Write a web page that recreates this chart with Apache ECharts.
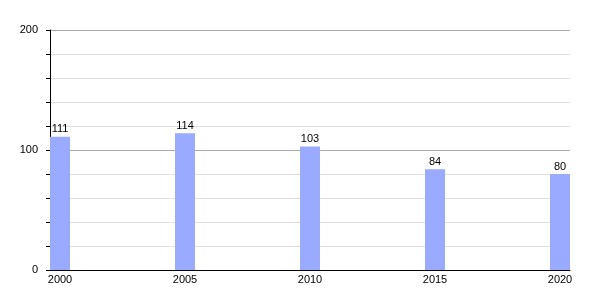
<!DOCTYPE html>
<html><head><meta charset="utf-8">
<script src="https://cdn.jsdelivr.net/npm/echarts@6/dist/echarts.min.js"></script>
<style>html,body{margin:0;padding:0;background:#fff}#c{width:600px;height:300px}</style>
</head><body><div id="c"></div>
<script>
const years = [2000, 2005, 2010, 2015, 2020];
const values = [111, 114, 103, 84, 80];
const yTicks = [0, 100, 200];

const chart = echarts.init(document.getElementById('c'), null, {renderer: 'canvas'});
chart.setOption({
  animation: false,
  backgroundColor: '#fff',
  grid: {left: 50, right: 30, top: 30, bottom: 30, containLabel: false},
  xAxis: {
    type: 'value', min: 1999.6, max: 2020.4,
    axisLine: {show: true, onZero: false, lineStyle: {color: '#000', width: 1}},
    axisTick: {show: false},
    splitLine: {show: false},
    axisLabel: {customValues: years, color: '#000', fontSize: 11, fontFamily: 'Liberation Sans, Arial, sans-serif', margin: 4, formatter: v => String(v)}
  },
  yAxis: {
    type: 'value', min: 0, max: 200, interval: 100,
    axisLine: {show: true, lineStyle: {color: '#000', width: 1}},
    axisTick: {show: true, length: 4, lineStyle: {color: '#000'}},
    minorTick: {show: true, splitNumber: 5, length: 4, lineStyle: {color: '#000'}},
    splitLine: {show: true, lineStyle: {color: '#aaa', width: 1}},
    minorSplitLine: {show: true, lineStyle: {color: '#e0e0e0', width: 1}},
    axisLabel: {color: '#000', fontSize: 11, fontFamily: 'Liberation Sans, Arial, sans-serif', margin: 12,
      formatter: v => yTicks.includes(v) ? String(v) : ''}
  },
  series: [{
    type: 'bar',
    data: years.map((y, i) => [y, values[i]]),
    barWidth: 20,
    itemStyle: {color: '#99aaff'},
    label: {show: true, position: 'top', distance: 2, color: '#000', fontSize: 11, fontFamily: 'Liberation Sans, Arial, sans-serif',
      formatter: p => String(p.value[1])}
  }]
});
</script></body></html>
